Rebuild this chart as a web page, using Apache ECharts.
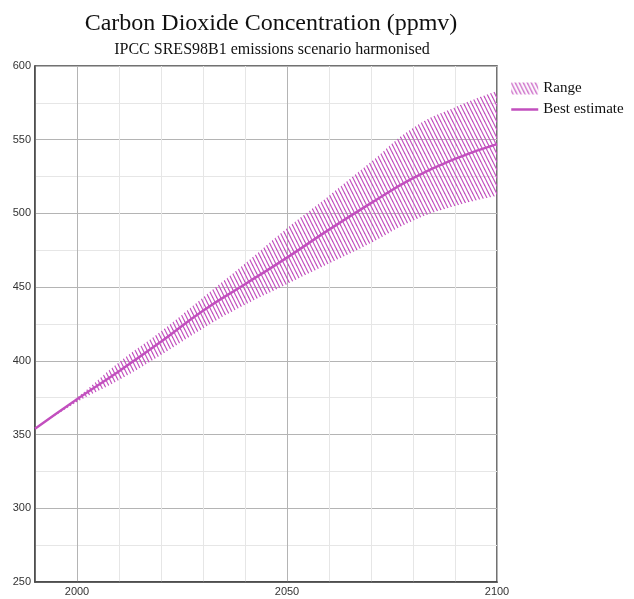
<!DOCTYPE html>
<html>
<head>
<meta charset="utf-8">
<script src="https://cdn.jsdelivr.net/npm/echarts@6/dist/echarts.min.js"></script>
<style>
  html, body { margin: 0; padding: 0; background: #fff; }
  #chart { width: 634px; height: 599px; }
</style>
</head>
<body>
<div id="chart"></div>
<script>
// values, per decade
const years = ['1990', '2000', '2010', '2020', '2030', '2040', '2050', '2060', '2070', '2080', '2090', '2100'];
const yearLabels = ['2000', '2050', '2100'];
const best  = [354, 374, 393, 413, 434, 452, 470, 489, 507, 524, 537, 547];
const upper = [354, 375, 399, 420, 443, 466, 490, 512, 535, 558, 572, 583];
const lower = [354, 372, 387, 404, 422, 438, 452, 466, 480, 495, 505, 512];

const purple = '#c24fbe';

// hatch tile for the range band
function hatch() {
  const c = document.createElement('canvas');
  c.width = 4; c.height = 8;
  const g = c.getContext('2d');
  g.strokeStyle = purple;
  g.lineWidth = 1.2;
  for (const dx of [-4, 0, 4]) {
    g.beginPath();
    g.moveTo(dx - 1, -2);
    g.lineTo(dx + 5, 10);
    g.stroke();
  }
  return { image: c, repeat: 'repeat' };
}

let chart = echarts.init(document.getElementById('chart'), null, { renderer: 'canvas' });

const major = '#b4b4b4', minor = '#e6e6e6';

chart.setOption({
  animation: false,
  title: [
    { text: 'Carbon Dioxide Concentration (ppmv)', left: 266, top: 7, textAlign: 'center',
      textStyle: { fontFamily: 'Liberation Serif', fontSize: 24, fontWeight: 'normal', color: '#111' } },
    { text: 'IPCC SRES98B1 emissions scenario harmonised', left: 267, top: 37, textAlign: 'center',
      textStyle: { fontFamily: 'Liberation Serif', fontSize: 16, fontWeight: 'normal', color: '#111' } }
  ],
  legend: {
    orient: 'vertical',
    left: 505, top: 76,
    itemWidth: 27, itemHeight: 12, itemGap: 6,
    textStyle: { fontFamily: 'Liberation Serif', fontSize: 15, color: '#111' },
    data: [
      { name: 'Range', icon: 'rect', itemStyle: { color: hatch() } },
      { name: 'Best estimate', itemStyle: { opacity: 0 }, lineStyle: { color: purple, width: 2.5 } }
    ]
  },
  grid: { left: 35, right: 137, top: 66, bottom: 17, show: true, borderColor: '#444', borderWidth: 1.5 },
  xAxis: {
    type: 'category', data: years, boundaryGap: false,
    axisLine: { lineStyle: { color: '#444', width: 1.5 } },
    axisTick: { show: false },
    axisLabel: { interval: 0, fontFamily: 'Liberation Sans', fontSize: 11, color: '#333', margin: 4,
      formatter: v => (yearLabels.includes(v) ? v : '') },
    splitLine: { show: true, interval: 0, lineStyle: { color: [minor, major, minor, minor, minor], width: 1 } }
  },
  yAxis: {
    type: 'value', min: 250, max: 600, interval: 50,
    axisLine: { show: true, lineStyle: { color: '#444', width: 1.5 } },
    axisTick: { show: false },
    axisLabel: { fontFamily: 'Liberation Sans', fontSize: 11, color: '#333', margin: 4 },
    splitLine: { lineStyle: { color: major, width: 1 } },
    minorTick: { show: false, splitNumber: 2 },
    minorSplitLine: { show: true, lineStyle: { color: minor, width: 1 } }
  },
  series: [
    {
      name: 'lower', type: 'line', stack: 'r', smooth: true, symbol: 'none',
      lineStyle: { width: 0 }, silent: true,
      data: lower
    },
    {
      name: 'Range', type: 'line', stack: 'r', smooth: true, symbol: 'none',
      lineStyle: { width: 0 }, itemStyle: { color: purple },
      areaStyle: { color: hatch(), opacity: 1 },
      data: upper.map((u, i) => u - lower[i])
    },
    {
      name: 'Best estimate', type: 'line', smooth: true, symbol: 'none', z: 5,
      itemStyle: { color: purple },
      lineStyle: { color: purple, width: 2.5 },
      data: best
    }
  ]
});
</script>
</body>
</html>
